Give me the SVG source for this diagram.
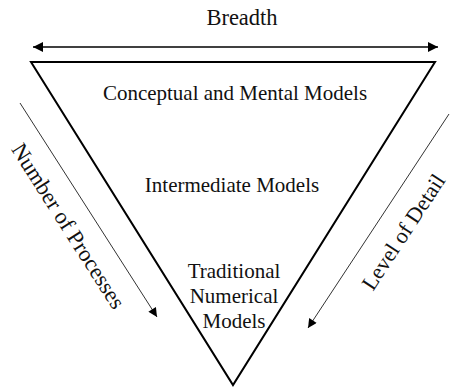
<svg xmlns="http://www.w3.org/2000/svg" width="451" height="387" viewBox="0 0 451 387">
<style>
text{font-family:"Liberation Serif","Times New Roman",serif;font-size:21px;fill:#111;text-anchor:middle}
.big{font-size:22.5px}
.thin{stroke:#333;stroke-width:1;fill:none}
</style>
<defs>
<marker id="bh" viewBox="0 0 10 10" refX="10" refY="5" markerWidth="12" markerHeight="10" markerUnits="userSpaceOnUse" orient="auto-start-reverse">
<path d="M0,0L10,5L0,10z" fill="#000"/>
</marker>
<marker id="th" viewBox="0 0 10 10" refX="10" refY="5" markerWidth="11" markerHeight="9" markerUnits="userSpaceOnUse" orient="auto">
<path d="M0,0L10,5L0,10z" fill="#000"/>
</marker>
</defs>
<g id="connectors">
<line x1="33" y1="47" x2="438" y2="47" stroke="#000" stroke-width="1.5" marker-start="url(#bh)" marker-end="url(#bh)"/>
<line class="thin" x1="20" y1="103" x2="157" y2="317" marker-end="url(#th)"/>
<line class="thin" x1="449" y1="114" x2="308" y2="328" marker-end="url(#th)"/>
</g>
<g id="triangle">
<polygon points="31,62 435,62 233,385" fill="none" stroke="#000" stroke-width="2" stroke-linejoin="miter"/>
</g>
<g id="breadth"><text class="big" x="242" y="25">Breadth</text></g>
<g id="conceptual"><text x="235" y="100">Conceptual and Mental Models</text></g>
<g id="intermediate"><text x="232" y="192">Intermediate Models</text></g>
<g id="traditional">
<text x="234" y="278">Traditional</text>
<text x="234" y="303">Numerical</text>
<text x="234" y="328">Models</text>
</g>
<g id="processes"><text class="big" transform="translate(62,230) rotate(57.5)">Number of Processes</text></g>
<g id="detail"><text style="font-size:22px" transform="translate(409.5,236) rotate(-56.7)">Level of Detail</text></g>
</svg>
